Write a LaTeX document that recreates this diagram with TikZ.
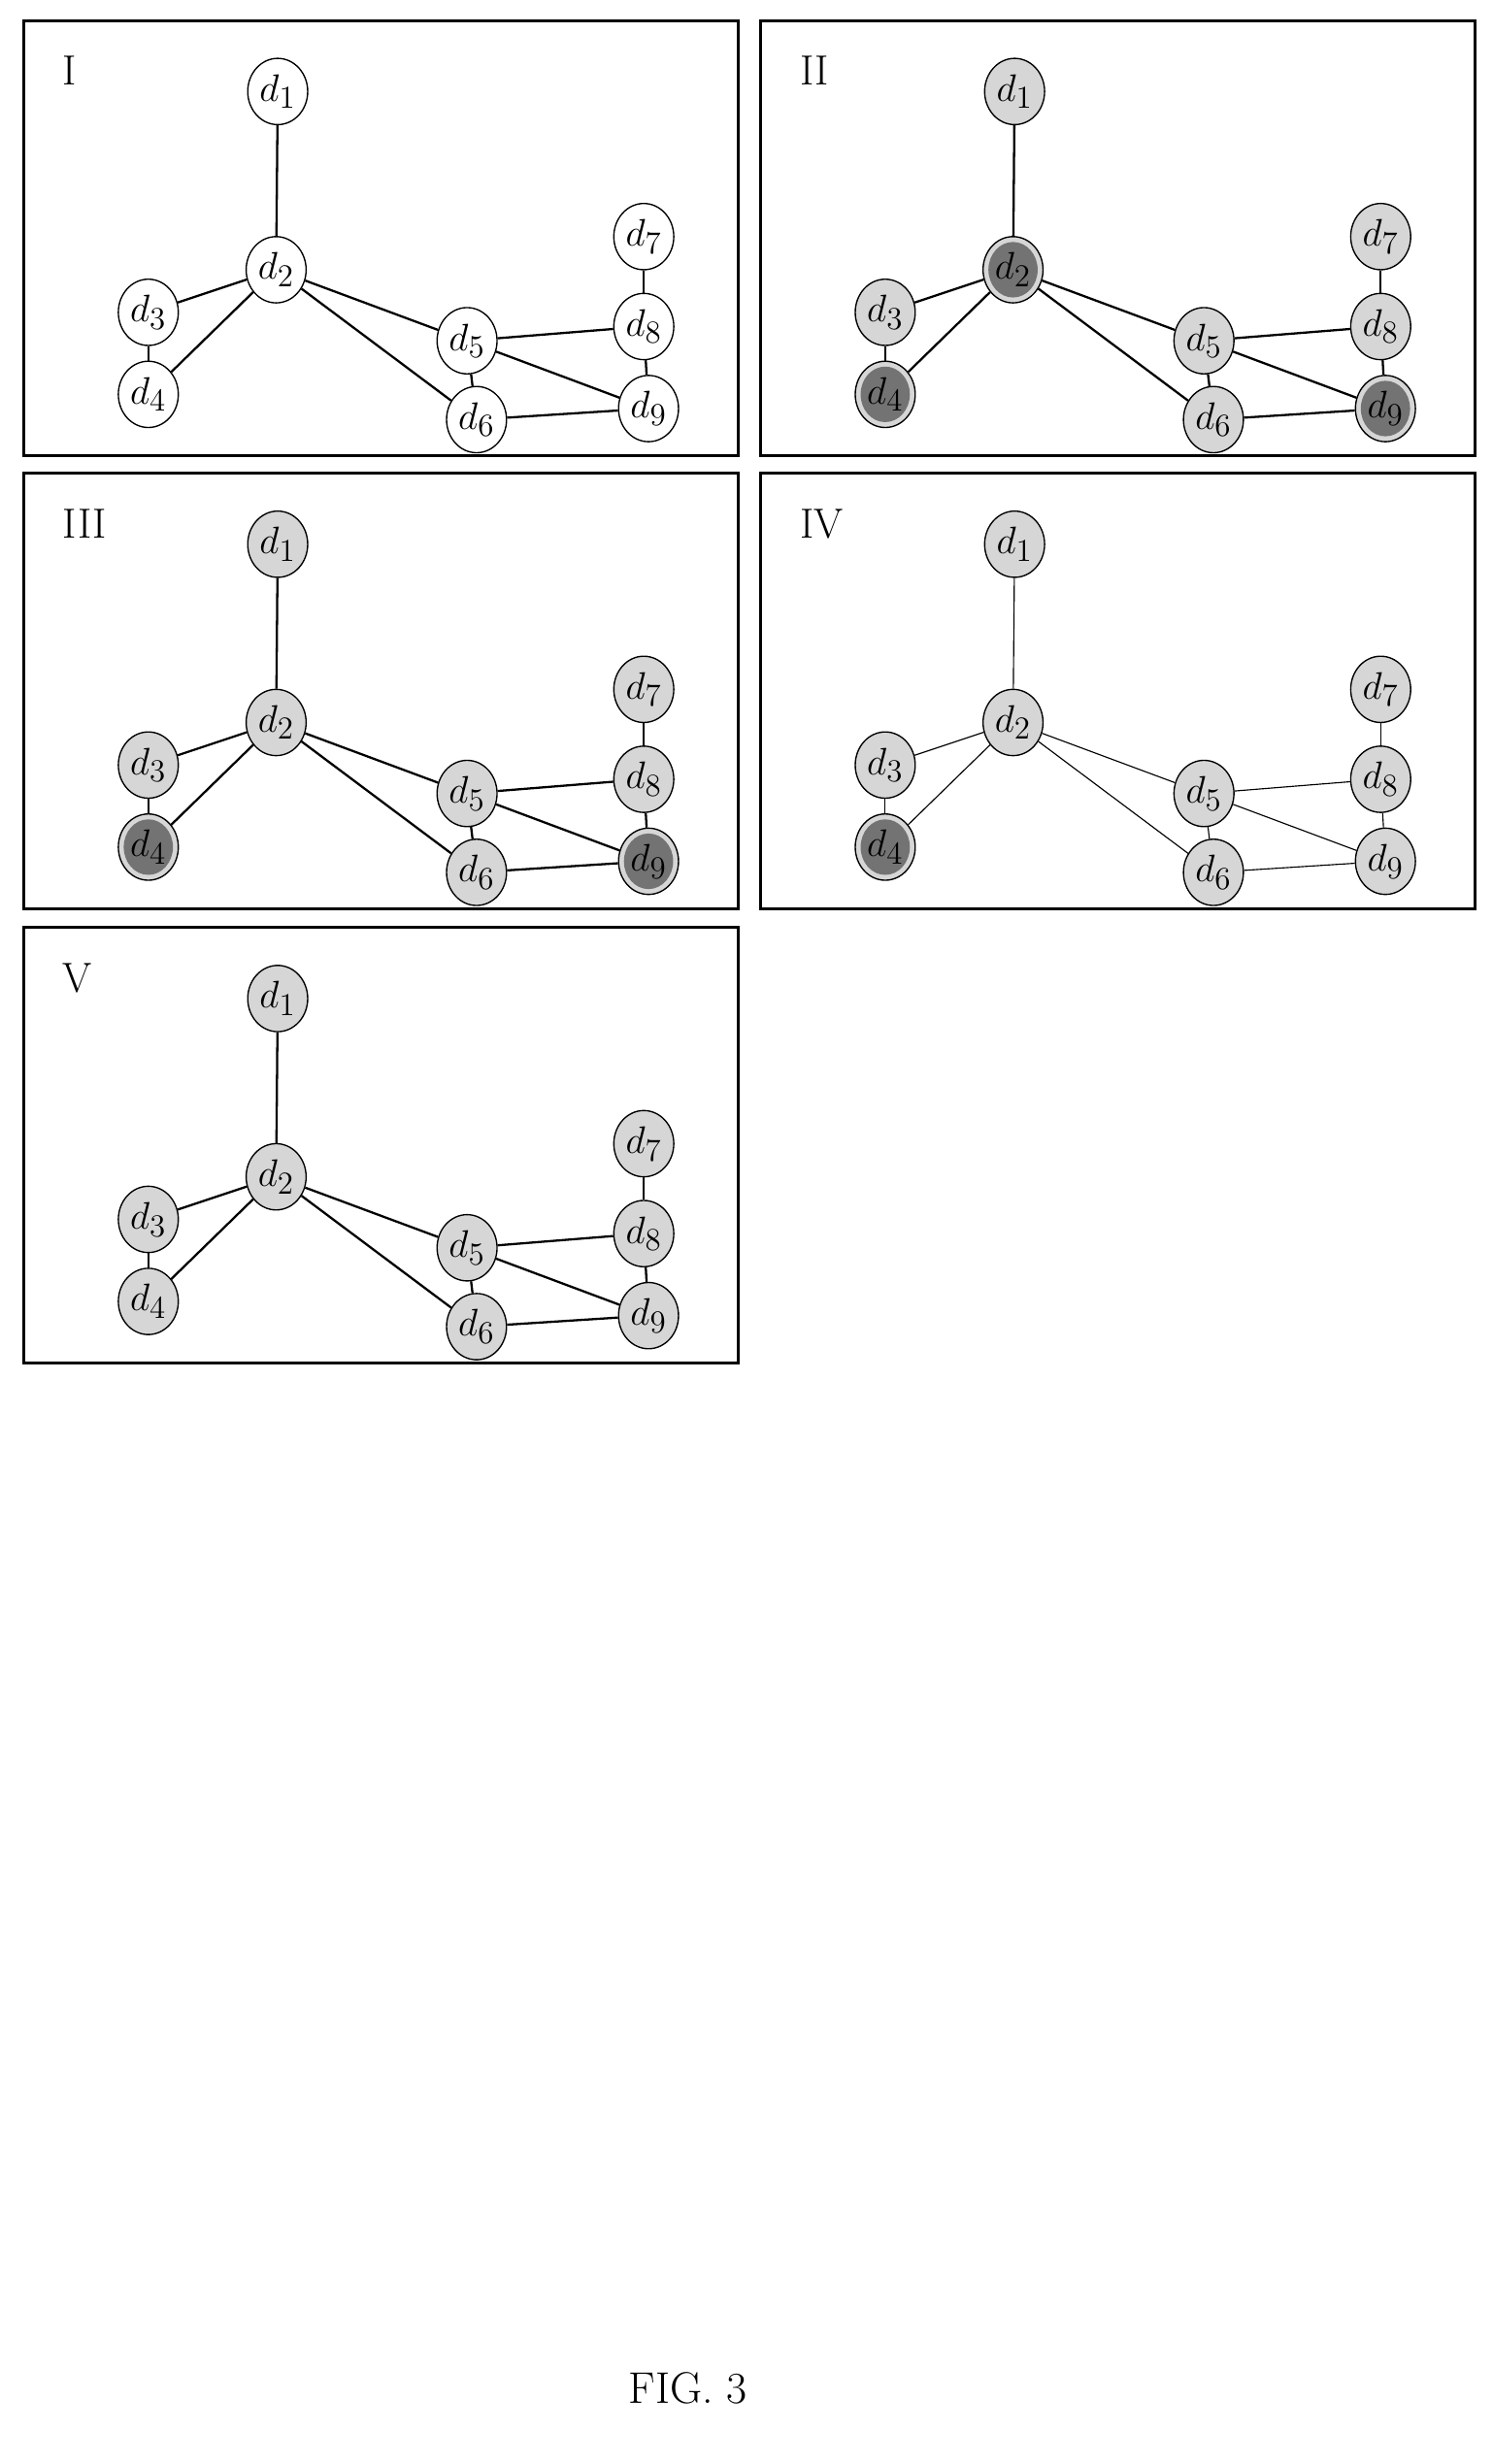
\documentclass[tikz,border=0pt]{standalone}
\usepackage{amsmath}
\usepackage{xcolor}
\usetikzlibrary{shapes.geometric}

\definecolor{lightdot}{gray}{0.84}
\definecolor{darkdot}{gray}{0.45}

\tikzset{
  vertex/.style={ellipse, draw=black, line width=0.6pt, fill=white,
    minimum width=0.95cm, minimum height=1.05cm, inner sep=0pt,
    font=\fontsize{19}{21}\selectfont},
  lit/.style={fill=lightdot},
  hot/.style={fill=lightdot, path picture={
    \fill[darkdot] (path picture bounding box.center) ellipse (0.39cm and 0.44cm);}},
  panelbox/.style={draw=black, line width=1.4pt},
  link/.style={line width=1pt},
  n1/.style={}, n2/.style={}, n3/.style={}, n4/.style={}, n5/.style={},
  n6/.style={}, n7/.style={}, n8/.style={}, n9/.style={}
}

% one graph, coordinates relative to the box corner
\newcommand{\drawgraph}{%
  \draw[panelbox] (0,0) rectangle (453,276);
  \node[vertex, n1] (d1) at (161,45)  {$d_1$};
  \node[vertex, n2] (d2) at (160,158) {$d_2$};
  \node[vertex, n3] (d3) at (79,185)  {$d_3$};
  \node[vertex, n4] (d4) at (79,237)  {$d_4$};
  \node[vertex, n5] (d5) at (281,203) {$d_5$};
  \node[vertex, n6] (d6) at (287,253) {$d_6$};
  \node[vertex, n7] (d7) at (393,137) {$d_7$};
  \node[vertex, n8] (d8) at (393,194) {$d_8$};
  \node[vertex, n9] (d9) at (396,246) {$d_9$};
  \begin{scope}[on background layer]
  \end{scope}
  \foreach \a/\b in {d1/d2, d2/d3, d2/d4, d3/d4, d2/d5, d2/d6, d5/d6,
                     d5/d8, d5/d9, d6/d9, d7/d8, d8/d9}
    \draw[link] (\a) -- (\b);
}

\usetikzlibrary{backgrounds}

\begin{document}
\begin{tikzpicture}[x=0.025cm, y=-0.025cm]
  \useasboundingbox (0,0) rectangle (946,1562);

  \begin{scope}[shift={(15,13)}, name prefix=I-]
    \drawgraph
    \node[font=\fontsize{19}{21}\selectfont, anchor=west] (labI) at (20,32) {I};
  \end{scope}

  \begin{scope}[shift={(482,13)}, name prefix=II-,
      n1/.style=lit, n2/.style=hot, n3/.style=lit, n4/.style=hot, n5/.style=lit,
      n6/.style=lit, n7/.style=lit, n8/.style=lit, n9/.style=hot]
    \drawgraph
    \node[font=\fontsize{19}{21}\selectfont, anchor=west] (labII) at (20,32) {II};
  \end{scope}

  \begin{scope}[shift={(15,300)}, name prefix=III-,
      n1/.style=lit, n2/.style=lit, n3/.style=lit, n4/.style=hot, n5/.style=lit,
      n6/.style=lit, n7/.style=lit, n8/.style=lit, n9/.style=hot]
    \drawgraph
    \node[font=\fontsize{19}{21}\selectfont, anchor=west] (labIII) at (20,32) {III};
  \end{scope}

  \begin{scope}[shift={(482,300)}, name prefix=IV-, link/.style={line width=0.5pt},
      n1/.style=lit, n2/.style=lit, n3/.style=lit, n4/.style=hot, n5/.style=lit,
      n6/.style=lit, n7/.style=lit, n8/.style=lit, n9/.style=lit]
    \drawgraph
    \node[font=\fontsize{19}{21}\selectfont, anchor=west] (labIV) at (20,32) {IV};
  \end{scope}

  \begin{scope}[shift={(15,588)}, name prefix=V-,
      n1/.style=lit, n2/.style=lit, n3/.style=lit, n4/.style=lit, n5/.style=lit,
      n6/.style=lit, n7/.style=lit, n8/.style=lit, n9/.style=lit]
    \drawgraph
    \node[font=\fontsize{19}{21}\selectfont, anchor=west] (labV) at (20,32) {V};
  \end{scope}

  \node[font=\fontsize{20}{22}\selectfont] (fig) at (436,1514) {FIG. 3};
\end{tikzpicture}
\end{document}
